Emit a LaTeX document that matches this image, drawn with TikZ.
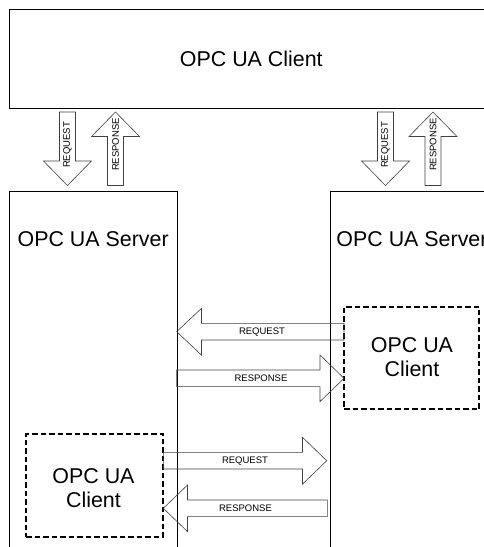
\documentclass[tikz,border=0pt]{standalone}
\usepackage{fontspec}
\setmainfont{Liberation Sans}
\begin{document}
\tikzset{
  box/.style={draw=black, line width=0.8pt, inner sep=0pt, outer sep=0pt},
  cbox/.style={draw=black, line width=1.7pt, dash pattern=on 5.5pt off 3pt, inner sep=0pt, outer sep=0pt},
  barrow/.style={draw=black!75, line width=0.6pt, line join=miter},
  big/.style={font=\fontsize{21.4}{24.7}\selectfont, inner sep=0pt, align=center},
  small/.style={font=\fontsize{9.5}{11}\selectfont, inner sep=0pt},
}
\begin{tikzpicture}[x=1pt,y=-1pt]
\useasboundingbox (0,0) rectangle (484,547);
\clip (0,0) rectangle (484,547);
% top client
\node[box, minimum width=485pt, minimum height=99pt, anchor=north west] (client) at (9.5,9) {};
\node[big] (clientlabel) at (251.3,59) {OPC UA Client};
% servers
\node[box, minimum width=167.5pt, minimum height=400pt, anchor=north west] (serverA) at (9.5,191) {};
\node[big] (serverAlabel) at (93.2,239.2) {OPC UA Server};
\node[box, minimum width=167.5pt, minimum height=400pt, anchor=north west] (serverB) at (330.7,191) {};
\node[big] (serverBlabel) at (412,239.2) {OPC UA Server};
% embedded clients
\node[cbox, minimum width=137pt, minimum height=102.7pt, anchor=north west] (clientA) at (26.3,434) {};
\node[big] (clientAlabel) at (93.5,488) {OPC UA\\Client};
\node[cbox, minimum width=135.3pt, minimum height=102.6pt, anchor=north west] (clientB) at (344,306.7) {};
\node[big] (clientBlabel) at (412,357) {OPC UA\\Client};
% vertical arrows, left
\draw[barrow] (59.5,112) -- (75.5,112) -- (75.5,161) -- (91.5,161) -- (67.5,185.5) -- (43.5,161) -- (59.5,161) -- cycle;
\node[small, rotate=90] (reqA) at (67.5,145) {REQUEST};
\draw[barrow] (107.5,185.5) -- (123.5,185.5) -- (123.5,136.5) -- (139.5,136.5) -- (115.5,112) -- (91.5,136.5) -- (107.5,136.5) -- cycle;
\node[small, rotate=90] (resA) at (115.5,144.5) {RESPONSE};
% vertical arrows, right
\draw[barrow] (377.5,112) -- (393.5,112) -- (393.5,161) -- (409.5,161) -- (385.5,185.5) -- (361.5,161) -- (377.5,161) -- cycle;
\node[small, rotate=90] (reqB) at (385.5,145) {REQUEST};
\draw[barrow] (425,185.5) -- (441,185.5) -- (441,136.5) -- (457,136.5) -- (433,112) -- (409,136.5) -- (425,136.5) -- cycle;
\node[small, rotate=90] (resB) at (433,144.5) {RESPONSE};
% horizontal arrows, middle
\draw[barrow] (344,323.4) -- (201.5,323.4) -- (201.5,308.3) -- (176.7,331.7) -- (201.5,355.1) -- (201.5,340) -- (344,340) -- cycle;
\node[small] (reqC) at (262,331.7) {REQUEST};
\draw[barrow] (176.7,370) -- (320,370) -- (320,355) -- (344,378.3) -- (320,401.6) -- (320,386.6) -- (176.7,386.6) -- cycle;
\node[small] (resC) at (261,378.3) {RESPONSE};
% horizontal arrows, bottom
\draw[barrow] (163.3,452.4) -- (302.5,452.4) -- (302.5,437.3) -- (326.7,460.7) -- (302.5,484.1) -- (302.5,469) -- (163.3,469) -- cycle;
\node[small] (reqD) at (245,460.7) {REQUEST};
\draw[barrow] (327.3,500) -- (187.5,500) -- (187.5,485) -- (163.3,508.3) -- (187.5,531.6) -- (187.5,516.6) -- (327.3,516.6) -- cycle;
\node[small] (resD) at (245.5,508.3) {RESPONSE};
\end{tikzpicture}
\end{document}
